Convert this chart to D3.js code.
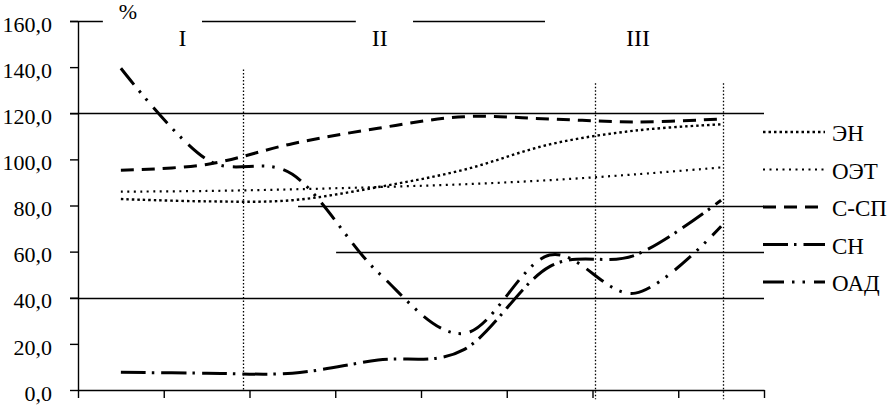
<!DOCTYPE html>
<html lang="ru">
<head>
<meta charset="UTF-8">
<title>Chart</title>
<script src="https://d3js.org/d3.v7.min.js"></script>
<style>
  body { margin: 0; background: #fff; }
  text { font-family: "Liberation Serif", "Times New Roman", serif; fill: #000; }
</style>
</head>
<body>
<div id="chart"></div>
<script>
(function(d3) {
  'use strict';

  // data
  var categories = [1, 2, 3, 4, 5, 6, 7, 8];
  var yTicks = [0, 20, 40, 60, 80, 100, 120, 140, 160];
  var periods = ['I', 'II', 'III'];
  var seriesNames = ['ЭН', 'ОЭТ', 'С-СП', 'СН', 'ОАД'];
  var EN  = [82.8, 81.8, 82.3, 88.0, 95.5, 106.5, 112.5, 115.2];
  var OET = [86.0, 86.3, 87.0, 88.0, 89.2, 91.0, 93.5, 96.5];
  var SSP = [95.3, 97.8, 106.8, 113.5, 118.5, 117.5, 116.2, 117.5];
  var SN  = [7.7, 7.3, 7.3, 13.0, 17.5, 53.5, 58.5, 82.3];
  var OAD = [139.5, 100.0, 93.5, 51.0, 24.5, 58.5, 42.0, 71.0];

  var width = 889, height = 405;

  var series = [
    { name: seriesNames[0], values: EN,  dash: '2.5,3',  w: 2.4 },
    { name: seriesNames[1], values: OET, dash: '2,4.5',  w: 2.2 },
    { name: seriesNames[2], values: SSP, dash: '13,8',   w: 3 },
    { name: seriesNames[3], values: SN,  dash: '25,6,2.5,7', w: 3 },
    { name: seriesNames[4], values: OAD, dash: '21,8,2.5,8,2.5,9', w: 3 }
  ];

  var svg = d3.select('#chart')
    .append('svg')
    .attr('width', width)
    .attr('height', height);

  var x = d3.scaleLinear().domain([0, categories.length]).range([78, 764]);
  var y = d3.scaleLinear().domain([0, 160]).range([390, 21]);

  // solid reference lines, [value, start in category units]
  var hLines = [[120, -0.093], [80, 2.566], [60, 3.01], [40, -0.093]];
  svg.append('g').selectAll('line')
    .data(hLines)
    .enter().append('line')
    .attr('x1', function(d) { return x(d[1]); })
    .attr('x2', x(8))
    .attr('y1', function(d) { return Math.round(y(d[0])) + 0.5; })
    .attr('y2', function(d) { return Math.round(y(d[0])) + 0.5; })
    .attr('stroke', '#000')
    .attr('stroke-width', 1.4);

  // broken top line at 160
  var topSegs = [[-0.093, 0.29], [1.446, 3.24], [3.907, 5.446]];
  svg.append('g').selectAll('line')
    .data(topSegs)
    .enter().append('line')
    .attr('x1', function(d) { return x(d[0]); })
    .attr('x2', function(d) { return x(d[1]); })
    .attr('y1', y(160) + 0.5)
    .attr('y2', y(160) + 0.5)
    .attr('stroke', '#000')
    .attr('stroke-width', 1.4);

  // period separators (dotted)
  var seps = [[1.925, 139, 0], [6.03, 133, -4], [7.52, 133, -4]];
  svg.append('g').selectAll('line')
    .data(seps)
    .enter().append('line')
    .attr('x1', function(d) { return Math.round(x(d[0])) + 0.5; })
    .attr('x2', function(d) { return Math.round(x(d[0])) + 0.5; })
    .attr('y1', function(d) { return y(d[1]); })
    .attr('y2', function(d) { return y(d[2]); })
    .attr('stroke', '#000')
    .attr('stroke-width', 1.3)
    .attr('stroke-dasharray', '1.5,2');

  // axes
  var yAxis = svg.append('g')
    .attr('transform', 'translate(' + x(0) + ',0)')
    .call(d3.axisLeft(y).tickValues(yTicks).tickSize(8).tickSizeOuter(0).tickPadding(18)
      .tickFormat(function(d) { return d.toFixed(1).replace('.', ','); }));
  yAxis.selectAll('text').style('font-size', '22px').attr('dy', '0.46em');

  svg.append('g')
    .attr('transform', 'translate(0,' + y(0) + ')')
    .call(d3.axisBottom(x).tickValues(d3.range(0, categories.length + 1)).tickSize(8)
      .tickSizeOuter(0).tickFormat(''));

  svg.selectAll('.domain, .tick line').attr('stroke', '#000').attr('stroke-width', 1.4);

  // series lines
  var line = d3.line()
    .x(function(d, i) { return x(i + 0.5); })
    .y(function(d) { return y(d); })
    .curve(d3.curveCardinal.tension(0));

  svg.append('g').selectAll('path')
    .data(series)
    .enter().append('path')
    .attr('d', function(d) { return line(d.values); })
    .attr('fill', 'none')
    .attr('stroke', '#000')
    .attr('stroke-width', function(d) { return d.w; })
    .attr('stroke-dasharray', function(d) { return d.dash; });

  // labels
  svg.append('text').attr('x', 128).attr('y', 19).attr('text-anchor', 'middle')
    .style('font-size', '22px').text('%');
  var periodX = [1.22, 3.52, 6.53];
  svg.append('g').selectAll('text')
    .data(periods)
    .enter().append('text')
    .attr('x', function(d, i) { return x(periodX[i]); })
    .attr('y', 46)
    .attr('text-anchor', 'middle')
    .style('font-size', '24px')
    .text(function(d) { return d; });

  // legend
  var legend = svg.append('g').selectAll('g')
    .data(series)
    .enter().append('g')
    .attr('transform', function(d, i) { return 'translate(763,' + (132 + i * 37.5) + ')'; });
  legend.append('line')
    .attr('x1', 0).attr('x2', 62)
    .attr('stroke', '#000')
    .attr('stroke-width', function(d) { return d.w; })
    .attr('stroke-dasharray', function(d) { return d.dash; });
  legend.append('text')
    .attr('x', 69).attr('y', 9)
    .style('font-size', '23px')
    .text(function(d) { return d.name; });

})(window.d3);
</script>
</body>
</html>
